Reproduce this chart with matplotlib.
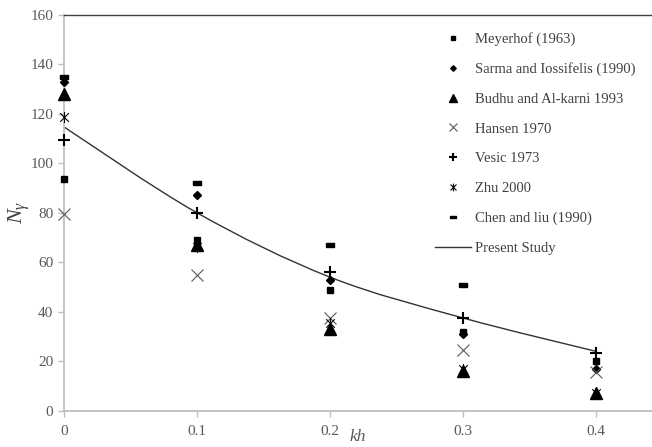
import numpy as np
import matplotlib
matplotlib.use("Agg")
import matplotlib.pyplot as plt
from matplotlib.path import Path
from matplotlib.patches import PathPatch
from matplotlib.lines import Line2D

plt.rcParams['font.family'] = ['Liberation Serif', 'DejaVu Serif']
plt.rcParams['mathtext.fontset'] = 'custom'
plt.rcParams['mathtext.rm'] = 'Liberation Serif'
plt.rcParams['mathtext.it'] = 'Liberation Serif:italic'

kh = [0.0, 0.1, 0.2, 0.3, 0.4]
meyerhof = [93.5, 69, 49, 32, 20]
sarma = [133, 87, 53, 31, 17]
budhu = [128, 67, 33, 16, 7]
hansen = [79.5, 55, 37.5, 24.5, 15.5]
vesic = [109.5, 80, 56, 37.5, 23.5]
zhu = [118.5, 66, 35.5, 17, 7]
chen = [135, 92, 67, 51, np.nan]
present = [114.7, 80, 54, 37.5, 24]

labels = ["Meyerhof (1963)", "Sarma and Iossifelis (1990)", "Budhu and Al-karni 1993",
          "Hansen 1970", "Vesic 1973", "Zhu 2000", "Chen and liu (1990)", "Present Study"]

fig = plt.figure(figsize=(6.52, 4.47), dpi=100)
ax = fig.add_axes([0.098, 0.081, 0.902, 0.886])

star = Path([(-1, -1), (1, 1), (-1, 1), (1, -1), (0, -1.3), (0, 1.3)],
            [Path.MOVETO, Path.LINETO, Path.MOVETO, Path.LINETO, Path.MOVETO, Path.LINETO])
dash = [(-1, -0.45), (1, -0.45), (1, 0.45), (-1, 0.45), (-1, -0.45)]

# Present study smooth curve (Catmull-Rom -> cubic Bezier)
x = np.array(kh); y = np.array(present)
verts = [(x[0], y[0])]; codes = [Path.MOVETO]
n = len(x)
for i in range(n - 1):
    p0 = np.array([x[max(i - 1, 0)], y[max(i - 1, 0)]])
    p1 = np.array([x[i], y[i]]); p2 = np.array([x[i + 1], y[i + 1]])
    p3 = np.array([x[min(i + 2, n - 1)], y[min(i + 2, n - 1)]])
    c1 = p1 + (p2 - p0) / 6.0
    c2 = p2 - (p3 - p1) / 6.0
    verts += [tuple(c1), tuple(c2), tuple(p2)]
    codes += [Path.CURVE4] * 3
ax.add_patch(PathPatch(Path(verts, codes), fill=False, edgecolor='#333333', lw=1.0, zorder=2))

ms = dict(linestyle='none', zorder=3, clip_on=False)
h1, = ax.plot(kh, meyerhof, marker='s', ms=5, color='black', **ms)
h2, = ax.plot(kh, sarma, marker='D', ms=4, color='black', **ms)
h3, = ax.plot(kh, budhu, marker='^', ms=8.5, color='black', **ms)
h4, = ax.plot(kh, hansen, marker='x', ms=9, mew=0.8, color='#595959', **ms)
h5, = ax.plot(kh, vesic, marker='+', ms=9, mew=1.5, color='black', **ms)
h6, = ax.plot(kh, zhu, marker=star, ms=8, mew=0.8, color='black', fillstyle='none', **ms)
h7, = ax.plot(kh, chen, marker=dash, ms=6, color='black', **ms)
h8 = Line2D([], [], color='#333333', lw=1.0)

ax.set_xlim(0, 0.442)
ax.set_ylim(0, 160)
ax.set_xticks(kh)
ax.set_xticklabels(['0', '0.1', '0.2', '0.3', '0.4'])
ax.set_yticks(np.arange(0, 161, 20))

for s in ['left', 'bottom']:
    ax.spines[s].set_color('#bfbfbf'); ax.spines[s].set_linewidth(1.3)
ax.spines['right'].set_visible(False)
ax.spines['top'].set_color('#404040'); ax.spines['top'].set_linewidth(1.0)
ax.tick_params(axis='both', colors='#bfbfbf', labelcolor='#595959', labelsize=11,
               length=4, width=1.0, direction='out')
ax.tick_params(axis='x', pad=6)

ax.set_xlabel('kh', fontsize=12.5, style='italic', color='#595959', labelpad=-6)
ax.set_ylabel(r'$N_\gamma$', fontsize=16, color='#404040')
ax.yaxis.set_label_coords(-0.055, 0.5)

leg = ax.legend([h1, h2, h3, h4, h5, h6, h7, h8], labels, loc='upper right',
                bbox_to_anchor=(0.995, 0.99), frameon=False, fontsize=10.5,
                labelspacing=1.13, handlelength=2.5, handletextpad=0.3, numpoints=1,
                markerscale=0.7)
for t in leg.get_texts():
    t.set_color('#404040')

fig.savefig('out.png', dpi=100)
